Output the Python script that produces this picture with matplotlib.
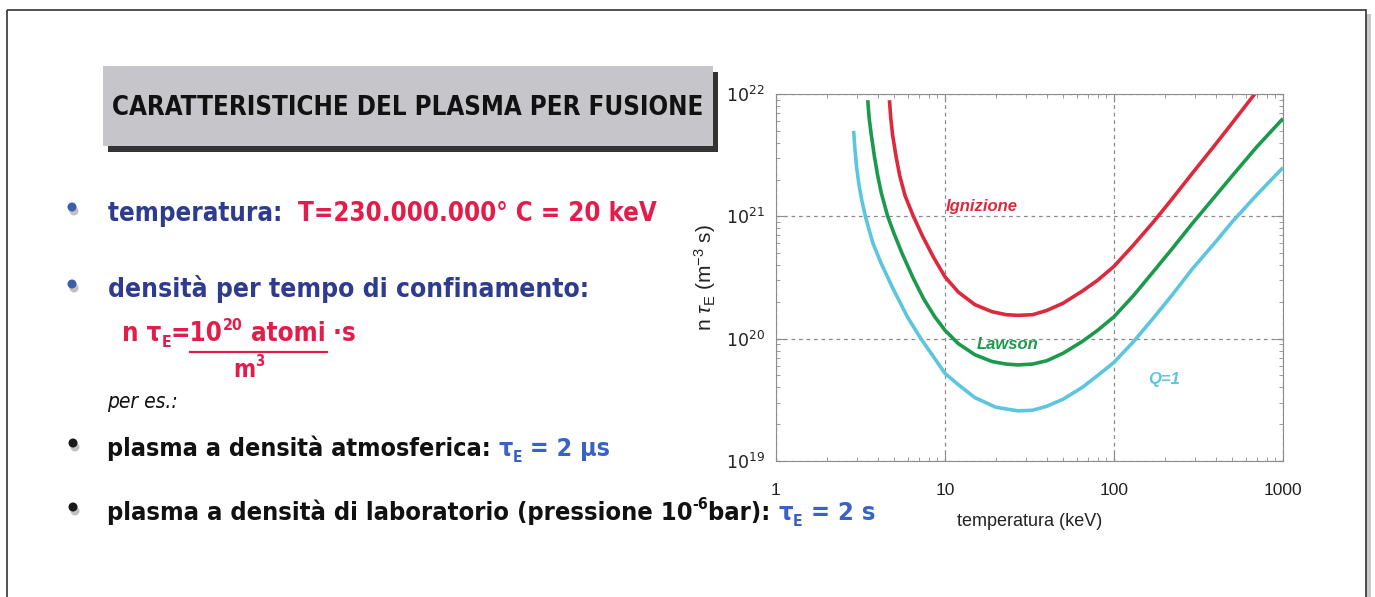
#!/usr/bin/env python3
# -*- coding: utf-8 -*-

import matplotlib
matplotlib.use('Agg')
import matplotlib.pyplot as plt
import matplotlib.ticker as mticker
from matplotlib.patches import Rectangle, Circle

import numpy as np

# Curves: temperature (keV) vs n*tau_E (m^-3 s)
T_ign = [4.69, 4.78, 4.9, 5.13, 5.4, 5.8, 6.5, 7.4, 8.5, 10, 12, 15, 19, 23, 27, 33, 40, 50,
         65, 80, 100, 130, 170, 220, 290, 400, 520, 680]
nt_ign = [8.9e21, 6.3e21, 4.6e21, 3.1e21, 2.14e21, 1.48e21, 1.0e21, 6.8e20, 4.7e20, 3.2e20,
          2.4e20, 1.9e20, 1.66e20, 1.57e20, 1.55e20, 1.57e20, 1.7e20, 1.95e20, 2.45e20, 3.0e20,
          3.9e20, 5.8e20, 8.9e20, 1.38e21, 2.24e21, 3.9e21, 6.2e21, 1.0e22]

T_law = [3.49, 3.56, 3.65, 3.82, 4.0, 4.2, 4.58, 5.0, 5.6, 6.5, 7.5, 8.7, 10, 12, 15, 19, 23, 27,
         33, 40, 50, 65, 80, 100, 130, 170, 220, 290, 400, 500, 700, 1000]
nt_law = [8.9e21, 6.3e21, 4.8e21, 3.1e21, 2.14e21, 1.55e21, 1.0e21, 7.2e20, 4.9e20, 3.1e20,
          2.1e20, 1.51e20, 1.17e20, 9.1e19, 7.4e19, 6.5e19, 6.2e19, 6.1e19, 6.2e19, 6.6e19,
          7.6e19, 9.5e19, 1.17e20, 1.51e20, 2.24e20, 3.5e20, 5.4e20, 8.7e20, 1.48e21, 2.14e21,
          3.7e21, 6.3e21]

T_q1 = [2.88, 2.93, 3.0, 3.1, 3.22, 3.38, 3.55, 3.75, 4.2, 4.9, 6.0, 7.2, 8.5, 10, 12, 15, 20, 27,
        33, 40, 50, 65, 80, 100, 130, 170, 220, 290, 400, 500, 700, 1000]
nt_q1 = [5.0e21, 3.55e21, 2.5e21, 1.8e21, 1.35e21, 1.0e21, 7.8e20, 6.0e20, 4.1e20, 2.6e20,
         1.5e20, 1.0e20, 7.2e19, 5.2e19, 4.2e19, 3.3e19, 2.75e19, 2.57e19, 2.6e19, 2.8e19,
         3.2e19, 4.0e19, 5.0e19, 6.4e19, 9.4e19, 1.46e20, 2.26e20, 3.7e20, 6.2e20, 9.0e20,
         1.5e21, 2.5e21]

curve_names = ['Ignizione', 'Lawson', 'Q=1']
curve_colors = ['#dc2a3c', '#1c9a4c', '#5cc6de']

xtick_vals = [1, 10, 100, 1000]
xtick_text = ['1', '10', '100', '1000']

title = 'CARATTERISTICHE DEL PLASMA PER FUSIONE'

plt.rcParams['mathtext.fontset'] = 'custom'
plt.rcParams['mathtext.rm'] = 'Liberation Sans'
plt.rcParams['mathtext.it'] = 'Liberation Sans:italic'

W, H = 1375, 597
fig = plt.figure(figsize=(W / 100, H / 100), dpi=100)
fig.patch.set_facecolor('white')

# overlay in pixel coordinates for the slide decoration and the text
ov = fig.add_axes([0, 0, 1, 1])
ov.set_xlim(0, W)
ov.set_ylim(H, 0)
ov.axis('off')

# slide frame with shadow on the right
ov.add_patch(Rectangle((1366, 14), 5, 600, color='#c8c8c8', lw=0))
ov.add_patch(Rectangle((7, 10), 1359, 600, fill=False, ec='#333333', lw=1.2))

# title box
ov.add_patch(Rectangle((108, 72), 610, 80, color='#333333', lw=0))
ov.add_patch(Rectangle((103, 66), 610, 80, color='#c6c6ca', lw=0))
ov.text(408, 108, title, ha='center', va='center', fontsize=18.5, fontweight='bold',
        fontstretch='condensed', family='DejaVu Sans', color='#111111')

fig.canvas.draw()
rend = fig.canvas.get_renderer()

BOLD = dict(fontweight='bold', fontstretch='condensed', family='DejaVu Sans', va='baseline')


def chain(x, y, parts, size=18.5):
    # parts: (text, colour, kind) with kind '', 'sub' or 'sup'
    for s, c, kind in parts:
        dy = 0
        fs = size
        if kind == 'sub':
            fs, dy = size * 0.62, 6
        elif kind == 'sup':
            fs, dy = size * 0.62, -11
        t = ov.text(x, y + dy, s, color=c, fontsize=fs, **BOLD)
        bb = t.get_window_extent(rend)
        x = bb.x1
    return x


def bullet(x, y, col):
    ov.add_patch(Circle((x + 2, y + 4), 4.5, color='#999999', alpha=0.6, lw=0))
    ov.add_patch(Circle((x, y), 4.5, color=col, lw=0))


blue_dk = '#2e3b8e'
red_t = '#e31c4b'
blue_t = '#3a62c4'
black = '#111111'

bullet(72, 207, '#3b5ea8')
chain(108, 221, [('temperatura:  ', blue_dk, ''), ('T=230.000.000° C = 20 keV', red_t, '')])

bullet(72, 284, '#3b5ea8')
chain(108, 297, [('densità per tempo di confinamento:', blue_dk, '')], size=19)

chain(122, 341, [('n τ', red_t, ''), ('E', red_t, 'sub'), ('=10', red_t, ''), ('20', red_t, 'sup'),
                 (' atomi', red_t, ''), (' ·s', red_t, '')])
ov.plot([190, 327], [352, 352], color=red_t, lw=1.6)
chain(233, 377, [('m', red_t, ''), ('3', red_t, 'sup')], size=17)

ov.text(107, 408, 'per es.:', fontsize=15, style='italic', family='DejaVu Sans',
        fontstretch='condensed', color=black, va='baseline')

bullet(73, 443, '#1a1a1a')
chain(107, 456, [('plasma a densità atmosferica: ', black, ''), ('τ', blue_t, ''), ('E', blue_t, 'sub'),
                 (' = 2 μs', blue_t, '')], size=18)

bullet(73, 507, '#1a1a1a')
chain(107, 520, [('plasma a densità di laboratorio (pressione 10', black, ''), ('-6', black, 'sup'),
                 ('bar): ', black, ''), ('τ', blue_t, ''), ('E', blue_t, 'sub'), (' = 2 s', blue_t, '')],
      size=18.3)

# the chart
ax = fig.add_axes([776 / W, 1 - 461 / H, (1283 - 776) / W, (461 - 94) / H])
ax.set_xscale('log')
ax.set_yscale('log')
ax.set_xlim(1, 1000)
ax.set_ylim(1e19, 1e22)

for T, nt, c in zip([T_ign, T_law, T_q1], [nt_ign, nt_law, nt_q1], curve_colors):
    ax.plot(T, nt, color=c, lw=2.6, solid_capstyle='butt', solid_joinstyle='round')

ax.grid(which='major', linestyle=(0, (3, 3)), color='#8a8a8a', lw=0.9)
for sp in ax.spines.values():
    sp.set_color('#8c8c8c')
ax.tick_params(which='both', direction='in', top=True, right=True, colors='#8c8c8c',
               labelcolor='#222222', labelsize=12.5)
ax.tick_params(which='major', length=6)
ax.tick_params(which='minor', length=3)
ax.set_xticks(xtick_vals)
ax.set_xticklabels(xtick_text, family='Liberation Sans')
ax.yaxis.set_major_locator(mticker.LogLocator(base=10, numticks=10))
ax.yaxis.set_minor_locator(mticker.LogLocator(base=10, subs=np.arange(2, 10), numticks=20))
ax.xaxis.set_minor_locator(mticker.LogLocator(base=10, subs=np.arange(2, 10), numticks=20))
ax.yaxis.set_minor_formatter(mticker.NullFormatter())
ax.xaxis.set_minor_formatter(mticker.NullFormatter())
ax.tick_params(axis='x', pad=16)
ax.tick_params(axis='y', pad=8)

ax.set_xlabel('temperatura (keV)', family='Liberation Sans', fontsize=13, color='#222222', labelpad=11)
ax.set_ylabel(r'n $\tau_{\mathrm{E}}$ (m$^{-3}$ s)', family='Liberation Sans', fontsize=15,
              color='#222222', labelpad=6)

ax.text(10.1, 1.05e21, curve_names[0], color=curve_colors[0], style='italic', fontweight='bold',
        family='Liberation Sans', fontsize=12, va='bottom')
ax.text(15.5, 9.0e19, curve_names[1], color=curve_colors[1], style='italic', fontweight='bold',
        family='Liberation Sans', fontsize=12, va='center')
ax.text(160, 4.6e19, curve_names[2], color=curve_colors[2], style='italic', fontweight='bold',
        family='Liberation Sans', fontsize=12, va='center')

fig.savefig('out.png', dpi=100)
